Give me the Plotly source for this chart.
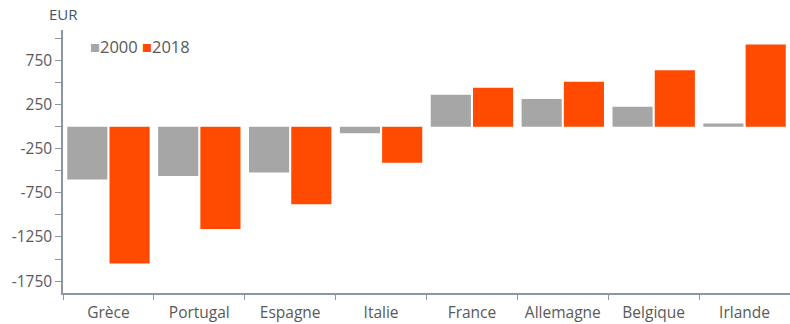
import plotly.graph_objects as go

countries = ["Grèce", "Portugal", "Espagne", "Italie", "France", "Allemagne", "Belgique", "Irlande"]
values_2000 = [-600, -560, -520, -75, 360, 312, 225, 36]
values_2018 = [-1550, -1160, -880, -410, 440, 508, 640, 932]

tick_vals = [1000, 750, 500, 250, 0, -250, -500, -750, -1000, -1250, -1500, -1750]
tick_text = ["", "750", "", "250", "", "-250", "", "-750", "", "-1250", "", "-1750"]

grey = "#A6A6A6"
orange = "#FF4A00"
axis_col = "#8A96A3"
text_col = "#595959"
font_family = "Open Sans, Lato, sans-serif"

fig = go.Figure()
fig.add_trace(go.Bar(name="2000", x=countries, y=values_2000, marker_color=grey, marker_line_width=0))
fig.add_trace(go.Bar(name="2018", x=countries, y=values_2018, marker_color=orange, marker_line_width=0))

legend_text = (f"<span style='color:{grey}'>■</span>2000 "
               f"<span style='color:{orange}'>■</span>2018")

fig.update_layout(
    width=790, height=324,
    margin=dict(l=63, r=0, t=30, b=31),
    barmode="group", bargap=0.07, bargroupgap=0.05,
    plot_bgcolor="white", paper_bgcolor="white",
    font=dict(family=font_family, size=15.5, color=text_col),
    showlegend=False,
    xaxis=dict(showline=True, linecolor=axis_col, linewidth=1.5,
               ticks="outside", tickson="boundaries", ticklen=5, tickcolor=axis_col,
               ticklabelstandoff=5,
               showgrid=False, tickfont=dict(size=15.5, color=text_col)),
    yaxis=dict(range=[-1885, 1095], showline=True, linecolor=axis_col, linewidth=1.5,
               ticks="outside", ticklen=6, tickcolor=axis_col,
               tickvals=tick_vals, ticktext=tick_text, showgrid=False, zeroline=False,
               tickfont=dict(size=15.5, color=text_col)),
    annotations=[
        dict(text="EUR", xref="paper", yref="paper", x=0, y=1, xanchor="center",
             yanchor="middle", yshift=16, showarrow=False,
             font=dict(size=15, color="#44546A")),
        dict(text=legend_text, xref="paper", yref="paper", x=0.034, y=0.939,
             xanchor="left", yanchor="middle", showarrow=False,
             font=dict(size=16.5, color=text_col)),
    ],
)

fig.write_html("out.html")
